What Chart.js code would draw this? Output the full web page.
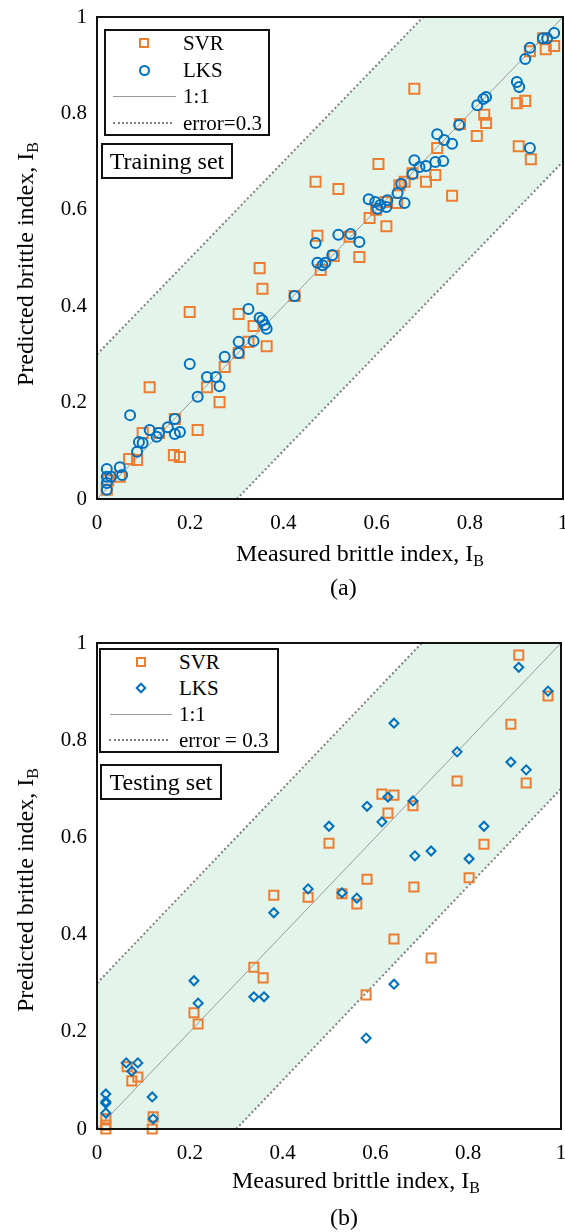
<!DOCTYPE html>
<html>
<head>
<meta charset="utf-8">
<script src="https://cdn.jsdelivr.net/npm/chart.js@4.4.1/dist/chart.umd.min.js"></script>
<style>
  body { margin: 0; width: 565px; height: 1232px; background: #fff; position: relative; overflow: hidden;
         font-family: "Liberation Serif", "Times New Roman", serif; color: #000; }
  canvas { position: absolute; left: 0; }
  .t { position: absolute; white-space: nowrap; line-height: 24px; height: 24px; font-size: 21px; }
  .big { font-size: 24px; }
  .box { position: absolute; border: 2px solid #111; box-sizing: border-box; background: #fff; }
  .tag { position: absolute; border: 2px solid #111; box-sizing: border-box; background: #fff;
         font-size: 24px; line-height: 32px; text-align: center; }
  .sq { position: absolute; width: 10px; height: 10px; border: 2px solid #ED7D31; box-sizing: border-box; }
  .ci { position: absolute; width: 11px; height: 11px; border: 2px solid #0070C0; border-radius: 50%; box-sizing: border-box; }
  .di { position: absolute; width: 8px; height: 8px; border: 2px solid #0070C0; box-sizing: border-box; transform: rotate(45deg); }
  .ln { position: absolute; height: 0; border-top: 1px solid #999; }
  .dt { position: absolute; height: 0; border-top: 2px dotted #808080; }
  .ytitle { position: absolute; white-space: nowrap; font-size: 24px; line-height: 28px;
            transform: translate(-50%, -50%) rotate(-90deg); }
  sub { font-size: 16px; vertical-align: -5px; line-height: 0; }
</style>
</head>
<body>
<canvas id="chartA" width="565" height="616" style="top:0"></canvas>
<canvas id="chartB" width="565" height="616" style="top:616px"></canvas>

<!-- panel (a) overlays -->
<div class="box" style="left:104px;top:29px;width:166px;height:107px"></div>
<div class="sq" style="left:139px;top:38px"></div><div class="t" style="left:183px;top:31px">SVR</div>
<div class="ci" style="left:139px;top:65px"></div><div class="t" style="left:183px;top:58px">LKS</div>
<div class="ln" style="left:113px;top:96px;width:63px"></div><div class="t" style="left:183px;top:84px">1:1</div>
<div class="dt" style="left:113px;top:122px;width:59px"></div><div class="t" style="left:183px;top:111px">error=0.3</div>
<div class="tag" style="left:101px;top:143px;width:132px;height:36px">Training set</div>
<div class="t big" style="left:236px;top:541px">Measured brittle index, I<sub>B</sub></div>
<div class="ytitle" style="left:25px;top:264px">Predicted brittle index, I<sub>B</sub></div>
<div class="t big" style="left:330px;top:575px">(a)</div>

<!-- panel (b) overlays -->
<div class="box" style="left:99px;top:648px;width:180px;height:105px"></div>
<div class="sq" style="left:136px;top:657px"></div><div class="t" style="left:179px;top:650px">SVR</div>
<div class="di" style="left:137px;top:684px"></div><div class="t" style="left:179px;top:676px">LKS</div>
<div class="ln" style="left:110px;top:714px;width:62px"></div><div class="t" style="left:179px;top:702px">1:1</div>
<div class="dt" style="left:109px;top:739px;width:59px"></div><div class="t" style="left:179px;top:728px">error = 0.3</div>
<div class="tag" style="left:100px;top:764px;width:122px;height:36px">Testing set</div>
<div class="t big" style="left:232px;top:1168px">Measured brittle index, I<sub>B</sub></div>
<div class="ytitle" style="left:25px;top:890px">Predicted brittle index, I<sub>B</sub></div>
<div class="t big" style="left:330px;top:1205px">(b)</div>

<script>
// ---- data ----
const tickValues = [0, 0.2, 0.4, 0.6, 0.8, 1];
const errorBand = 0.3;

// reference lines (1:1 and +/- error) and the shaded band between them
const oneToOneX = [0, 1];
const oneToOneY = [0, 1];
const upperX = [0, 1 - errorBand];
const upperY = [errorBand, 1];
const lowerX = [errorBand, 1];
const lowerY = [0, 1 - errorBand];
const bandX = [0, 0, 1 - errorBand, 1, 1, errorBand];
const bandY = [0, errorBand, 1, 1, 1 - errorBand, 0];

// (a) training set
const trainSvrX = [0.681, 0.469, 0.518, 0.604, 0.762, 0.815, 0.831, 0.835, 0.901, 0.919, 0.905, 0.931,
  0.963, 0.981, 0.957, 0.929, 0.779, 0.730, 0.726, 0.706, 0.660, 0.649, 0.644, 0.619, 0.599, 0.585,
  0.621, 0.473, 0.542, 0.349, 0.355, 0.199, 0.304, 0.424, 0.336, 0.325, 0.364, 0.480, 0.304, 0.274,
  0.236, 0.263, 0.113, 0.216, 0.167, 0.098, 0.133, 0.086, 0.069, 0.165, 0.178, 0.049, 0.021, 0.024,
  0.563, 0.508, 0.677];
const trainSvrY = [0.851, 0.658, 0.643, 0.695, 0.629, 0.753, 0.797, 0.780, 0.821, 0.826, 0.732, 0.705,
  0.933, 0.940, 0.956, 0.929, 0.778, 0.728, 0.672, 0.658, 0.658, 0.651, 0.614, 0.616, 0.600, 0.583,
  0.566, 0.546, 0.544, 0.479, 0.436, 0.388, 0.384, 0.421, 0.359, 0.326, 0.317, 0.475, 0.303, 0.274,
  0.232, 0.201, 0.232, 0.143, 0.166, 0.137, 0.137, 0.081, 0.083, 0.091, 0.087, 0.046, 0.019, 0.039,
  0.502, 0.504, 0.676];
const trainLksX = [0.981, 0.966, 0.957, 0.929, 0.919, 0.901, 0.906, 0.929, 0.835, 0.829, 0.816, 0.777,
  0.730, 0.745, 0.762, 0.681, 0.692, 0.706, 0.726, 0.743, 0.677, 0.653, 0.645, 0.660, 0.583, 0.597,
  0.623, 0.608, 0.602, 0.621, 0.469, 0.518, 0.544, 0.563, 0.505, 0.473, 0.484, 0.490, 0.325, 0.349,
  0.355, 0.360, 0.364, 0.336, 0.304, 0.304, 0.274, 0.199, 0.236, 0.255, 0.263, 0.216, 0.424, 0.071,
  0.167, 0.152, 0.113, 0.178, 0.167, 0.133, 0.128, 0.090, 0.098, 0.086, 0.049, 0.054, 0.021, 0.021,
  0.021, 0.021, 0.030];
const trainLksY = [0.967, 0.956, 0.956, 0.936, 0.913, 0.865, 0.855, 0.728, 0.834, 0.830, 0.817, 0.776,
  0.757, 0.745, 0.737, 0.703, 0.689, 0.691, 0.699, 0.701, 0.674, 0.654, 0.635, 0.614, 0.622, 0.616,
  0.620, 0.610, 0.602, 0.606, 0.531, 0.548, 0.550, 0.533, 0.506, 0.490, 0.485, 0.490, 0.394, 0.376,
  0.371, 0.361, 0.353, 0.328, 0.326, 0.303, 0.295, 0.280, 0.253, 0.253, 0.234, 0.212, 0.421, 0.174,
  0.166, 0.149, 0.143, 0.139, 0.135, 0.137, 0.129, 0.118, 0.116, 0.098, 0.066, 0.050, 0.062, 0.046,
  0.033, 0.019, 0.046];

// (b) testing set
const testSvrX = [0.909, 0.972, 0.892, 0.776, 0.925, 0.614, 0.640, 0.627, 0.681, 0.500, 0.834, 0.582,
  0.802, 0.683, 0.455, 0.528, 0.560, 0.640, 0.720, 0.580, 0.381, 0.338, 0.358, 0.209, 0.218, 0.065,
  0.088, 0.075, 0.121, 0.119, 0.019, 0.019, 0.019];
const testSvrY = [0.975, 0.891, 0.833, 0.716, 0.712, 0.689, 0.687, 0.650, 0.665, 0.588, 0.586, 0.514,
  0.517, 0.498, 0.477, 0.484, 0.463, 0.391, 0.352, 0.276, 0.481, 0.333, 0.311, 0.239, 0.216, 0.128,
  0.107, 0.099, 0.025, 0.000, 0.021, 0.000, 0.008];
const testLksX = [0.909, 0.972, 0.640, 0.776, 0.892, 0.925, 0.627, 0.681, 0.582, 0.614, 0.500, 0.834,
  0.685, 0.720, 0.802, 0.455, 0.528, 0.560, 0.640, 0.580, 0.381, 0.209, 0.218, 0.338, 0.360, 0.063,
  0.088, 0.075, 0.119, 0.121, 0.019, 0.019, 0.019, 0.019];
const testLksY = [0.950, 0.901, 0.835, 0.776, 0.755, 0.739, 0.683, 0.675, 0.664, 0.632, 0.623, 0.623,
  0.562, 0.572, 0.556, 0.494, 0.486, 0.475, 0.298, 0.187, 0.445, 0.305, 0.259, 0.272, 0.272, 0.136,
  0.136, 0.119, 0.066, 0.021, 0.072, 0.056, 0.053, 0.033];

const ORANGE = "#ED7D31";
const BLUE = "#0070C0";
const BAND = "#e3f4ea";
const FONT = "'Liberation Serif', 'Times New Roman', serif";

const pts = (xs, ys) => xs.map((x, i) => ({ x, y: ys[i] }));

// black box round the plot area
const frame = {
  id: "frame",
  afterDraw(chart) {
    const { ctx, chartArea: a } = chart;
    ctx.save();
    ctx.strokeStyle = "#111";
    ctx.lineWidth = 2;
    ctx.strokeRect(a.left, a.top, a.right - a.left, a.bottom - a.top);
    ctx.restore();
  }
};

function noPad(s) {
  s.paddingLeft = 0; s.paddingRight = 0; s.paddingTop = 0; s.paddingBottom = 0;
}

function buildChart(id, p) {
  const axis = (extra) => Object.assign({
    type: "linear", min: 0, max: 1,
    grid: { display: false, drawTicks: false },
    border: { display: false },
    afterBuildTicks(s) { s.ticks = tickValues.map(v => ({ value: v })); }
  }, extra);
  const tickFont = { family: FONT, size: 21 };
  const fmt = (v) => String(+Number(v).toFixed(1));

  return new Chart(document.getElementById(id), {
    type: "scatter",
    data: {
      datasets: [
        { label: "LKS", data: pts(p.lksX, p.lksY), pointStyle: p.lksStyle, pointRadius: p.lksR,
          borderColor: BLUE, pointBorderColor: BLUE, pointBackgroundColor: "rgba(0,0,0,0)",
          borderWidth: 2, pointBorderWidth: 2, clip: false },
        { label: "SVR", data: pts(p.svrX, p.svrY), pointStyle: "rect", pointRadius: p.svrR,
          borderColor: ORANGE, pointBorderColor: ORANGE, pointBackgroundColor: "rgba(0,0,0,0)",
          borderWidth: 2, pointBorderWidth: 2, clip: false },
        { label: "1:1", data: pts(oneToOneX, oneToOneY), showLine: true, borderColor: "#9a9a9a",
          borderWidth: 1, pointRadius: 0 },
        { label: "error+", data: pts(upperX, upperY), showLine: true, borderColor: "#7f7f7f",
          borderWidth: 2, borderDash: [2, 2.5], pointRadius: 0 },
        { label: "error-", data: pts(lowerX, lowerY), showLine: true, borderColor: "#7f7f7f",
          borderWidth: 2, borderDash: [2, 2.5], pointRadius: 0 },
        { label: "band", data: pts(bandX, bandY), showLine: true, fill: "shape",
          backgroundColor: BAND, borderColor: "rgba(0,0,0,0)", borderWidth: 0, pointRadius: 0 }
      ]
    },
    options: {
      responsive: false,
      animation: false,
      events: [],
      layout: { autoPadding: false, padding: { top: p.top, right: p.right, left: 0, bottom: 0 } },
      plugins: { legend: { display: false }, tooltip: { enabled: false } },
      scales: {
        x: axis({
          ticks: { padding: 12, color: "#000", font: tickFont, maxRotation: 0, callback: fmt },
          afterFit(s) { s.height = p.xH; noPad(s); }
        }),
        y: axis({
          ticks: { padding: 10, color: "#000", font: tickFont, callback: fmt },
          afterFit(s) { s.width = 97; noPad(s); }
        })
      }
    },
    plugins: [frame]
  });
}

buildChart("chartA", {
  svrX: trainSvrX, svrY: trainSvrY, lksX: trainLksX, lksY: trainLksY,
  lksStyle: "circle", lksR: 5, svrR: 7.1,
  top: 17, right: 2, xH: 117
});

buildChart("chartB", {
  svrX: testSvrX, svrY: testSvrY, lksX: testLksX, lksY: testLksY,
  lksStyle: "rectRot", lksR: 4.5, svrR: 6.4,
  top: 27, right: 4, xH: 103
});
</script>
</body>
</html>
